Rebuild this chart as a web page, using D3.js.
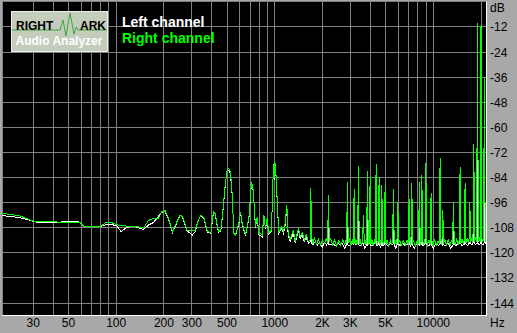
<!DOCTYPE html>
<html>
<head>
<meta charset="utf-8">
<script src="https://cdn.jsdelivr.net/npm/d3@7"></script>
<style>
  body { margin: 0; background: #a8a8a8; }
  svg { display: block; font-family: "Liberation Sans", Arial, sans-serif; }
</style>
</head>
<body>
<div id="chart"></div>
<script>
// RightMark spectrum: Hz (log) vs dB, two channels

const gridFreqs = [30,40,50,60,70,80,90,100,200,300,400,500,600,700,800,900,
                   1000,2000,3000,4000,5000,6000,7000,8000,9000,10000,20000];
const freqTicks = [30,50,100,200,300,500,1000,2000,3000,5000,10000];
const freqLabels = ["30","50","100","200","300","500","1000","2K","3K","5K","10000"];
const dbTicks = [-12,-24,-36,-48,-60,-72,-84,-96,-108,-120,-132,-144];

// [Hz, dB] — Right channel (green)
const rightChannel = [
  [19,-101.1],[21.5,-101.6],[24.8,-102.4],[28.7,-104.3],[31.6,-105.1],[37.4,-105.1],[44.4,-105.3],
  [49.1,-105.5],[56.8,-105.6],[59.3,-105.6],[62.2,-107.2],[70,-107.3],[79.3,-107.5],[85.2,-105.7],
  [91.7,-105.3],[101,-106.6],[116.8,-107.2],[131.8,-107.2],[148.6,-108.2],[159.8,-104.5],[171.9,-103.5],
  [184.8,-103.5],[194.1,-100.3],[203.7,-99.9],[213.7,-103.5],[226.5,-109.9],[241.4,-105.1],[253.2,-101.9],
  [262,-102.7],[279.1,-109.1],[292.8,-109.5],[314.9,-109.1],[330.3,-104.3],[342,-101.9],[358.8,-103.5],
  [376.5,-109.9],[395.6,-110.3],[410.7,-100.3],[421,-101.3],[441.6,-109.9],[457.2,-109.1],[470.8,-99.5],
  [486,-88],[501,-80.4],[513.5,-79.6],[525.6,-81.2],[538.8,-92],[552.4,-110.6],[565.4,-111.4],
  [593.8,-105.9],[607.8,-100.3],[623,-105.9],[653.5,-111.4],[686.6,-103.5],[712.9,-86.0],[727.6,-88.5],
  [738.3,-94.7],[755.7,-107.5],[774.5,-102.7],[793.8,-110.6],[812.5,-110.6],[832.6,-111.4],[853.7,-101.9],
  [873.7,-108.2],[895.4,-103.5],[917.8,-110.6],[950,-109.1],[968,-94.7],[980,-78],[990,-84],[1000,-76.4],
  [1012,-79],[1025,-86],[1040,-97.9],[1061,-109.9],[1108,-107.5],[1135,-109.9],[1163,-105.9],[1192,-97],
  [1215,-110.6],[1251,-113.8],[1312,-109.1],[1345,-114.6],[1410,-108.2],
  [1446,-112.2],[1490,-110.2],[1535,-113.8],[1580,-111.4],[1628,-114.6],[1669,-113.8],[1689,-88.8],
  [1700,-104],[1712,-113],[1740,-115.4],[1779,-113],[1832,-115.8],[1887,-113.4],[1944,-116.2],
  [2002,-113.8],[2062,-115.4],[2110,-113.0],[2155,-115],[2181,-92.3],[2207,-114.6],[2250,-113.4],
  [2318,-116.2],[2387,-113.8],[2459,-116.6],[2533,-114.2],[2609,-116.2],[2687,-113.8],[2768,-116.2],
  [2805,-114.2],[2839,-115.4],[2873,-86.2],[2907,-115.4],[2950,-113.4],[3024,-116.2],[3080,-113.8],
  [3130,-115.8],[3168,-89.6],[3206,-115.8],[3250,-113.4],[3295,-116.2],[3332,-114.2],[3372,-78.3],
  [3412,-115.8],[3460,-113.4],[3520,-116.6],[3582,-114.2],[3625,-101.9],[3668,-114.6],[3720,-116.2],
  [3760,-113.8],[3796,-115.8],[3842,-80.8],[3888,-114.2],[3920,-116.2],[3948,-113.8],[3996,-83.6],
  [4044,-115.8],[4100,-113.4],[4170,-116.6],[4250,-114.2],[4307,-115.8],[4359,-77.5],[4411,-114.2],
  [4455,-116.2],[4498,-114.2],[4553,-83.6],[4608,-115.8],[4640,-113.8],[4677,-116.2],[4734,-87.5],
  [4791,-114.2],[4850,-116.2],[4907,-114.2],[4967,-87.5],[5027,-115.8],[5100,-113.8],[5210,-116.6],
  [5370,-114.2],[5450,-116.2],[5536,-114.2],[5603,-89.6],[5670,-115.8],[5760,-113.8],[5840,-116.2],
  [5901,-114.2],[5973,-95.8],[6045,-115.8],[6130,-113.8],[6280,-116.6],[6470,-114.2],[6660,-116.2],
  [6820,-113.8],[6954,-116.2],[7038,-94.2],[7122,-114.2],[7180,-116.2],[7230,-114.2],[7318,-86.7],
  [7406,-115.8],[7500,-113.8],[7700,-116.6],[7900,-114.2],[8000,-116.2],[8075,-114.2],[8173,-86.0],
  [8271,-115.8],[8320,-113.8],[8362,-116.2],[8464,-82.8],[8566,-114.2],[8700,-116.2],[8780,-113.8],
  [8860,-115.8],[8968,-76.9],[9076,-114.2],[9200,-116.2],[9400,-113.8],[9569,-116.2],[9685,-91.5],
  [9801,-114.2],[9950,-116.6],[10200,-113.8],[10480,-116.2],[10700,-114.2],[10908,-115.8],[11040,-74.8],
  [11172,-113.8],[11260,-116.2],[11339,-114.2],[11477,-99.5],[11615,-115.8],[11800,-113.4],[12100,-116.2],
  [12410,-113.8],[12780,-116.2],[13050,-113.8],[13229,-115.8],[13390,-96.3],[13551,-114.2],[13750,-116.2],
  [14050,-113.4],[14350,-115.8],[14580,-113.8],[14757,-78.8],[14934,-115.4],[15150,-113.4],[15450,-115.8],
  [15679,-113.8],[15869,-86.4],[16059,-115.4],[16350,-113],[16600,-115.4],[16796,-113.8],[17000,-96],
  [17204,-115],[17450,-113],[17784,-115.4],[18000,-68],[18216,-115],[18450,-112.6],[18772,-115],
  [19000,-10.2],[19228,-114.6],[19500,-112.6],[19760,-114.6],[20000,-11],[20240,-113],[20500,-115],
  [20748,-112.6],[21000,-36.2],[21252,-114.6],[21500,-112.6],[21800,-114.6]
];

// [Hz, dB] — Left channel (white)
const leftChannel = [
  [19,-102.2],[21.5,-102.6],[24.8,-103.2],[28.7,-104.5],[31.6,-105.3],[37.4,-105.6],[44.4,-105.3],
  [49.1,-104.8],[56.8,-104.8],[59.3,-105.6],[62.2,-107.2],[79.3,-107.5],[85.2,-106.7],[91.7,-106.2],
  [101,-107.2],[107.5,-109.9],[116.8,-107.7],[131.8,-107.5],[148.6,-108.8],[159.8,-106.7],[171.9,-105.5],
  [184.8,-102.5],[194.1,-100.6],[203.7,-100.3],[213.7,-104],[226.5,-110.2],[241.4,-105.5],[253.2,-102.2],
  [262,-103],[279.1,-109.5],[302.8,-111.4],[314.9,-109.8],[330.3,-104.5],[342,-102.2],[358.8,-104],
  [376.5,-110.3],[395.6,-110.6],[410.7,-100.8],[421,-101.6],[441.6,-110.3],[457.2,-109.5],[470.8,-100],
  [486,-88.5],[501,-80.4],[513.5,-80.4],[525.6,-82],[538.8,-92.5],[552.4,-111],[565.4,-111.8],
  [593.8,-106.2],[607.8,-100.8],[623,-106.2],[653.5,-111.8],[686.6,-104],[712.9,-86.7],[727.6,-89],
  [738.3,-95],[755.7,-108],[774.5,-103],[793.8,-111.4],[832.6,-112.3],[853.7,-102.5],[873.7,-108.5],
  [895.4,-104],[917.8,-111],[950,-109.9],[968,-95],[980,-77.5],[990,-85],[1000,-77],[1012,-80],
  [1025,-86.7],[1040,-98.5],[1061,-110.6],[1108,-108.2],[1135,-110.6],[1163,-106.7],[1192,-97.9],
  [1215,-111.4],[1251,-114.6],[1312,-110.6],[1345,-115.4],[1410,-109.1],
  [1446,-113],[1490,-111.4],[1535,-114.6],[1580,-112.6],[1628,-115.4],[1680,-114.6],[1689,-89.6],
  [1698,-115.4],[1740,-116.2],[1800,-114.6],[1860,-116.2],[1920,-115],[1990,-117.4],[2060,-115],
  [2120,-116.2],[2172,-115],[2181,-93],[2190,-115.8],[2250,-116.2],[2330,-115.4],[2410,-116.6],
  [2490,-115.4],[2580,-116.2],[2670,-115.4],[2760,-117.8],[2862,-115.4],[2873,-87],[2884,-116.2],
  [2960,-116.6],[3060,-115.4],[3156,-116.2],[3168,-90.4],[3180,-115.4],[3260,-116.2],[3360,-115.4],
  [3372,-79],[3384,-116.2],[3480,-116.6],[3600,-115.4],[3700,-117.8],[3828,-115.4],[3842,-81.6],
  [3856,-116.2],[3982,-115.4],[3996,-84.4],[4010,-116.2],[4120,-116.6],[4230,-115.4],[4343,-115.8],
  [4359,-78.3],[4375,-116.2],[4460,-116.6],[4537,-115.8],[4553,-84.4],[4569,-115.4],[4640,-117.8],
  [4717,-115.4],[4734,-88.3],[4751,-116.2],[4850,-116.6],[4950,-115.8],[4967,-88.3],[4984,-115.4],
  [5150,-116.6],[5350,-115.4],[5470,-116.2],[5583,-115.8],[5603,-90.4],[5623,-115.4],[5800,-117.8],
  [5952,-115.8],[5973,-96.6],[5994,-115.4],[6150,-116.6],[6400,-115.4],[6650,-116.6],[6850,-115.8],
  [7013,-116.2],[7038,-95],[7063,-115.4],[7180,-116.6],[7292,-115.8],[7318,-87.5],[7344,-116.2],
  [7600,-117.8],[7900,-115.4],[8144,-116.2],[8173,-86.7],[8202,-115.4],[8434,-115.8],[8464,-83.6],
  [8494,-116.2],[8700,-116.6],[8936,-115.4],[8968,-77.7],[9000,-115.8],[9300,-116.6],[9650,-115.8],
  [9685,-92.3],[9720,-116.2],[10000,-117.8],[10400,-115.4],[10800,-116.6],[11000,-115.8],[11040,-75.6],
  [11080,-115.4],[11437,-116.2],[11477,-100.3],[11517,-115.8],[11900,-116.6],[12400,-115.4],[12900,-117.8],
  [13342,-116.2],[13390,-97.1],[13438,-115.4],[13900,-116.6],[14300,-115.4],[14704,-115.8],[14757,-79.6],
  [14810,-115.4],[15200,-116.6],[15812,-115.8],[15869,-87.2],[15926,-115.4],[16400,-116.6],[17000,-115],
  [17500,-116.2],[17935,-115],[18000,-69],[18065,-115.4],[18500,-116.2],[18930,-115],[19000,-10.5],
  [19070,-115.4],[19500,-116.2],[19930,-115],[20000,-11.3],[20070,-115.4],[20500,-116.2],[20925,-115],
  [21000,-37],[21075,-114.6],[21500,-115.8],[21800,-114.6]
];

const W = 517, H = 333;
const P = { left: 2, top: 2, right: 486, bottom: 315 };

const svg = d3.select("#chart").append("svg").attr("width", W).attr("height", H);
svg.append("rect").attr("width", W).attr("height", H).attr("fill", "#a8a8a8");

const x = d3.scaleLog().domain([30, 10000]).range([33.3, 433.3]);
const y = d3.scaleLinear().domain([0, -150]).range([1.9, 315.6]);
const px = v => Math.floor(v) + 0.5;

// plot area
svg.append("rect").attr("x", P.left).attr("y", P.top)
  .attr("width", P.right - P.left).attr("height", P.bottom - P.top).attr("fill", "#000");
svg.append("clipPath").attr("id", "clip").append("rect")
  .attr("x", P.left).attr("y", P.top).attr("width", P.right - P.left).attr("height", P.bottom - P.top);

// grid
const grid = svg.append("g").attr("stroke", "#808080").attr("shape-rendering", "crispEdges");
grid.selectAll("line.v").data(gridFreqs).join("line").attr("class", "v")
  .attr("x1", d => px(x(d))).attr("x2", d => px(x(d)))
  .attr("y1", P.top).attr("y2", P.bottom);
grid.selectAll("line.h").data([0, ...dbTicks]).join("line").attr("class", "h")
  .attr("x1", P.left).attr("x2", P.right)
  .attr("y1", d => px(y(d))).attr("y2", d => px(y(d)));
grid.append("line").attr("x1", 2.5).attr("x2", 2.5).attr("y1", P.top).attr("y2", P.bottom);

// 3d edge
svg.append("line").attr("x1", P.right + 0.5).attr("x2", P.right + 0.5).attr("y1", P.top).attr("y2", P.bottom + 1)
  .attr("stroke", "#fff").attr("shape-rendering", "crispEdges");
svg.append("line").attr("x1", P.left).attr("x2", P.right + 1).attr("y1", P.bottom + 0.5).attr("y2", P.bottom + 0.5)
  .attr("stroke", "#fff").attr("shape-rendering", "crispEdges");

// traces
const line = d3.line().x(d => x(d[0])).y(d => y(d[1]));
const traces = svg.append("g").attr("clip-path", "url(#clip)").attr("fill", "none")
  .attr("shape-rendering", "crispEdges");
traces.append("path").datum(leftChannel).attr("d", line).attr("stroke", "#fff").attr("stroke-width", 1);
traces.append("path").datum(rightChannel).attr("d", line).attr("stroke", "#00ff00").attr("stroke-width", 1);

// axis labels
const lab = svg.append("g").style("font-size", "12px").attr("fill", "#000");
lab.selectAll("text.db").data(dbTicks).join("text").attr("class", "db")
  .attr("x", 490).attr("y", d => y(d) + 4.5).text(d => d);
lab.append("text").attr("x", 490).attr("y", 12).text("dB");
lab.selectAll("text.hz").data(freqTicks).join("text").attr("class", "hz")
  .attr("x", d => x(d)).attr("y", 327).attr("text-anchor", "middle")
  .text((d, i) => freqLabels[i]);
lab.append("text").attr("x", 490).attr("y", 327).text("Hz");

// logo
const logo = svg.append("g");
logo.append("rect").attr("x", 11.5).attr("y", 11.5).attr("width", 96).attr("height", 40)
  .attr("fill", "#c4ccbc").attr("stroke", "#eef0ea");
logo.append("path")
  .attr("d", "M12,30 L60,30 L63,20 L66,36 L70,13 L74,34 L76,27 L78,30 L107,30")
  .attr("fill", "none").attr("stroke", "#3ea33e").attr("stroke-width", 1);
logo.append("text").attr("x", 16).attr("y", 30).style("font-size", "12px").style("font-weight", "700")
  .attr("fill", "#000").text("RIGHT");
logo.append("text").attr("x", 80).attr("y", 30).style("font-size", "12px").style("font-weight", "700")
  .attr("fill", "#000").text("ARK");
logo.append("text").attr("x", 15.5).attr("y", 45).style("font-size", "12px").style("font-weight", "700")
  .attr("fill", "#fff").text("Audio Analyzer");

// legend
svg.append("text").attr("x", 122).attr("y", 27).style("font-size", "14px").style("font-weight", "700")
  .attr("fill", "#fff").text("Left channel");
svg.append("text").attr("x", 122).attr("y", 42.5).style("font-size", "14px").style("font-weight", "700")
  .attr("fill", "#00ff00").text("Right channel");
</script>
</body>
</html>
